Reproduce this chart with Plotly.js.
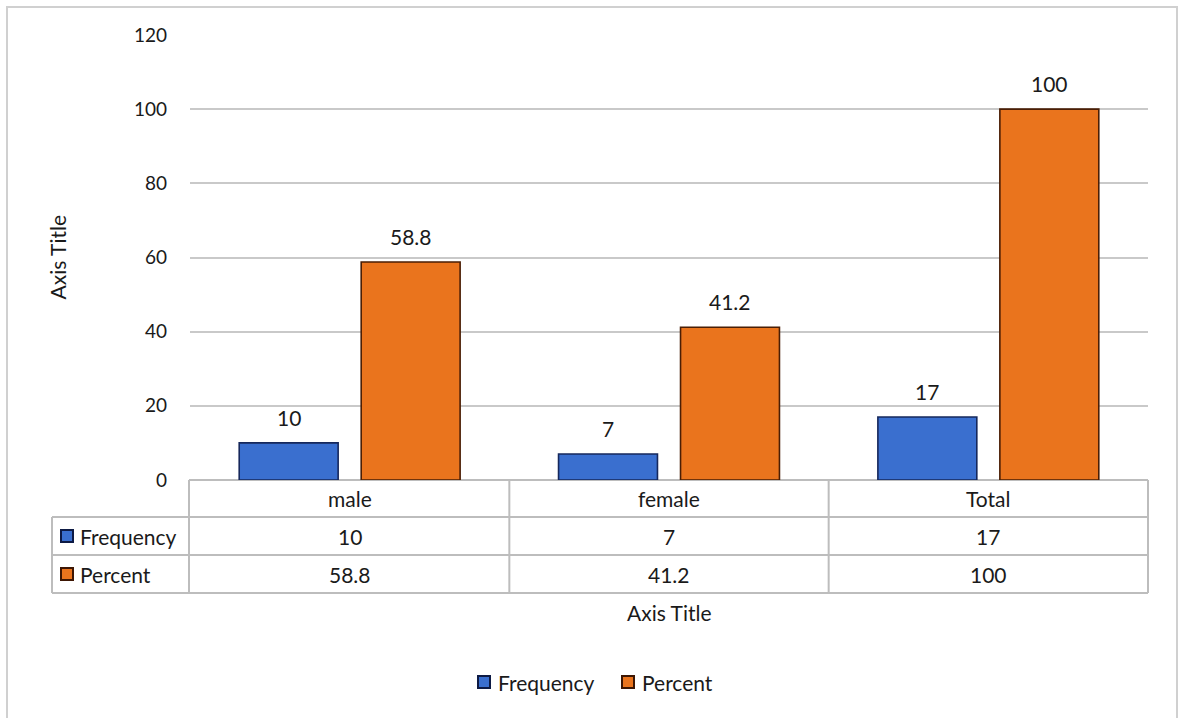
<!DOCTYPE html>
<html>
<head>
<meta charset="utf-8">
<script src="https://cdn.plot.ly/plotly-3.0.1.min.js"></script>
<style>
  html, body { margin: 0; padding: 0; background: #ffffff; }
  #chart { width: 1178px; height: 718px; }
</style>
</head>
<body>
<div id="chart"></div>
<script>
// Category labels and series values
const categories = ["male", "female", "Total"];
const frequency = [10, 7, 17];
const percent = [58.8, 41.2, 100];
const seriesNames = ["Frequency", "Percent"];
const yTicks = [0, 20, 40, 60, 80, 100, 120];

// Styling
const FONT = "Lato, 'Open Sans', sans-serif";
const TEXT = "#1a1a1a";
const GRID = "#c9c9c9";
const TABLE_LINE = "#bdbdbd";
const BLUE = "#3a6fcf", BLUE_EDGE = "#16285c";
const ORANGE = "#ea741d", ORANGE_EDGE = "#4a1e05";
const TXT_SIZE = 21, TICK_SIZE = 19;
const BARGAP = 0.236, BARGROUPGAP = 0.189;

// Plot area geometry (pixels) used to place the data table under the axis
const W = 1178, H = 718;
const M = { l: 190, r: 30, t: 35, b: 238 };
const PW = W - M.l - M.r, PH = H - M.t - M.b;
const px = p => (p - M.l) / PW;          // pixel x -> paper x
const py = q => (H - M.b - q) / PH;      // pixel y -> paper y

const traces = [
  {
    type: "bar", name: seriesNames[0], x: categories, y: frequency,
    marker: { color: BLUE, line: { color: BLUE_EDGE, width: 1.6 } },
    hoverinfo: "x+y+name"
  },
  {
    type: "bar", name: seriesNames[1], x: categories, y: percent,
    marker: { color: ORANGE, line: { color: ORANGE_EDGE, width: 1.6 } },
    hoverinfo: "x+y+name"
  }
];

const shapes = [];
const annotations = [];
const line = (x0, y0, x1, y1, color, w) => shapes.push({
  type: "line", xref: "paper", yref: "paper",
  x0: px(x0), y0: py(y0), x1: px(x1), y1: py(y1),
  line: { color: color, width: w }, layer: "below"
});
const label = (x, y, text, anchor, extra) => annotations.push(Object.assign({
  xref: "paper", yref: "paper", x: px(x), y: py(y), text: text, showarrow: false,
  xanchor: anchor, yanchor: "middle", font: { size: TXT_SIZE }
}, extra || {}));
const keyBox = (xc, yc, s) => shapes.push({
  type: "rect", xref: "paper", yref: "paper",
  x0: px(xc - 6), x1: px(xc + 6), y0: py(yc - 6), y1: py(yc + 6),
  fillcolor: [BLUE, ORANGE][s], line: { color: ["#0d1a44", "#3d1603"][s], width: 2 }
});

// Outer chart frame
shapes.push({
  type: "rect", xref: "paper", yref: "paper",
  x0: px(7), x1: px(1177), y0: py(7), y1: py(722),
  line: { color: "#d0d0d0", width: 2 }, layer: "below"
});

// Data table grid
const tableLeft = 52, tableRight = M.l + PW, colLeft = 189;
const rowY = [480, 517, 555, 593];
line(colLeft, rowY[0], tableRight, rowY[0], TABLE_LINE, 2);
for (let i = 1; i < rowY.length; i++) line(tableLeft, rowY[i], tableRight, rowY[i], TABLE_LINE, 2);
line(tableLeft, rowY[1], tableLeft, rowY[3], TABLE_LINE, 2);
line(colLeft, rowY[0], colLeft, rowY[3], TABLE_LINE, 2);
for (let c = 1; c <= categories.length; c++) {
  const xc = M.l + PW * c / categories.length;
  line(xc, rowY[0], xc, rowY[3], TABLE_LINE, 2);
}

// Table text: header row with categories, then one row per series
const rowMid = i => (rowY[i] + rowY[i + 1]) / 2;
const tableRows = [frequency, percent];
categories.forEach((cat, c) => {
  const xc = M.l + PW * (c + 0.5) / categories.length;
  label(xc, rowMid(0), cat, "center");
  tableRows.forEach((vals, r) => label(xc, rowMid(r + 1), String(vals[c]), "center"));
});
seriesNames.forEach((name, r) => {
  const ym = rowMid(r + 1);
  keyBox(67, ym, r);
  label(78, ym, name, "left");
});

// Value labels above each bar, positioned at the grouped bar centres
const half = (1 - BARGAP) / 4;
[frequency, percent].forEach((vals, s) => {
  vals.forEach((v, i) => {
    annotations.push({ xref: "x", yref: "y", x: i + (s === 0 ? -half : half), y: v,
      text: String(v), showarrow: false, xanchor: "center", yanchor: "bottom", yshift: 11,
      font: { size: TXT_SIZE } });
  });
});

// Axis titles
label(M.l + PW / 2, 612, "Axis Title", "center");
label(57, M.t + PH / 2, "Axis Title", "center", { textangle: -90 });

// Legend along the bottom
const legendY = 682;
const legendKeys = [484, 628];
seriesNames.forEach((name, s) => {
  keyBox(legendKeys[s], legendY, s);
  label(legendKeys[s] + 12, legendY, name, "left");
});

const layout = {
  width: W, height: H,
  margin: M,
  paper_bgcolor: "#ffffff", plot_bgcolor: "#ffffff",
  font: { family: FONT, size: TXT_SIZE, color: TEXT },
  barmode: "group", bargap: BARGAP, bargroupgap: BARGROUPGAP,
  xaxis: {
    type: "category", showticklabels: false, showgrid: false, zeroline: false,
    showline: false, ticks: "", fixedrange: true
  },
  yaxis: {
    range: [0, 120], tickvals: yTicks, showgrid: true, gridcolor: GRID, gridwidth: 2,
    zeroline: false, showline: false, ticks: "", ticklabelstandoff: 22,
    tickfont: { family: FONT, size: TICK_SIZE, color: TEXT }, fixedrange: true
  },
  showlegend: false,
  shapes: shapes,
  annotations: annotations
};

Plotly.newPlot("chart", traces, layout, { displayModeBar: false, staticPlot: true });
</script>
</body>
</html>
